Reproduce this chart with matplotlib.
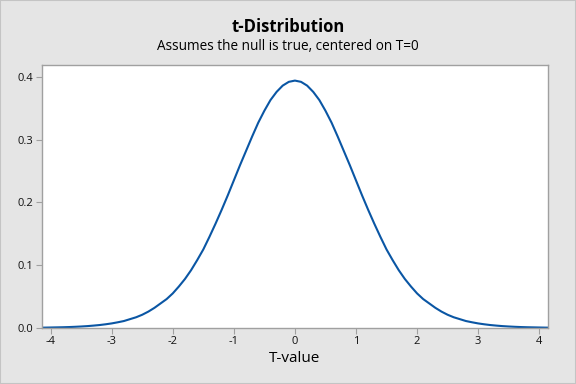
import numpy as np
import matplotlib
matplotlib.use("Agg")
import matplotlib.pyplot as plt
from matplotlib.patches import Rectangle

# values (right half, curve is symmetric)
t_half = [0.0, 0.1, 0.2, 0.3, 0.4, 0.5, 0.6, 0.7, 0.8, 0.9,
          1.0, 1.1, 1.2, 1.3, 1.4, 1.5, 1.6, 1.7, 1.8, 1.9,
          2.0, 2.1, 2.2, 2.3, 2.4, 2.5, 2.6, 2.7, 2.8, 2.9,
          3.0, 3.1, 3.2, 3.3, 3.4, 3.5, 3.6, 3.7, 3.8, 3.9,
          4.0, 4.1, 4.2]
dens_half = [0.394, 0.392, 0.386, 0.376, 0.363, 0.346, 0.327, 0.305, 0.282, 0.259,
             0.235, 0.211, 0.188, 0.166, 0.145, 0.125, 0.108, 0.092, 0.078, 0.066,
             0.055, 0.046, 0.039, 0.032, 0.026, 0.021, 0.017, 0.014, 0.011, 0.009,
             0.0072, 0.0058, 0.0046, 0.0037, 0.0029, 0.0023, 0.0018, 0.0014, 0.0011, 0.0009,
             0.0007, 0.0005, 0.0004]

t_vals = [-v for v in t_half[:0:-1]] + t_half
dens = dens_half[:0:-1] + dens_half

x_ticks = [-4, -3, -2, -1, 0, 1, 2, 3, 4]
y_ticks = [0.0, 0.1, 0.2, 0.3, 0.4]

plt.rcParams['font.family'] = ['Open Sans', 'DejaVu Sans']

fig = plt.figure(figsize=(5.76, 3.84), dpi=100, facecolor="#e5e5e5")
fig.patches.append(Rectangle((0, 0), 1, 1, transform=fig.transFigure, fill=False,
                             edgecolor="#c4c4c4", linewidth=1.5))
ax = fig.add_axes([0.073, 0.146, 0.878, 0.685])
ax.set_facecolor("white")

ax.plot(t_vals, dens, color="#0a56a4", linewidth=1.5)

ax.set_xlim(-4.14, 4.14)
ax.set_ylim(0, 0.419)
ax.set_xticks(x_ticks)
ax.set_xticklabels([str(v) for v in x_ticks])
ax.set_yticks(y_ticks)
ax.set_yticklabels(["{:.1f}".format(v) for v in y_ticks])

for s in ax.spines.values():
    s.set_color("#a0a0a0")
    s.set_linewidth(1.0)
ax.tick_params(direction="out", length=4, width=0.8, color="#a0a0a0",
               labelsize=8, labelcolor="#111111", pad=2)

ax.set_xlabel("T-value", fontsize=11, labelpad=3)

fig.text(0.5, 0.93, "t-Distribution", ha="center", va="center",
         fontsize=12, fontweight="bold")
fig.text(0.5, 0.878, "Assumes the null is true, centered on T=0", ha="center",
         va="center", fontsize=9.8)

fig.savefig("out.png", dpi=100, facecolor=fig.get_facecolor())
